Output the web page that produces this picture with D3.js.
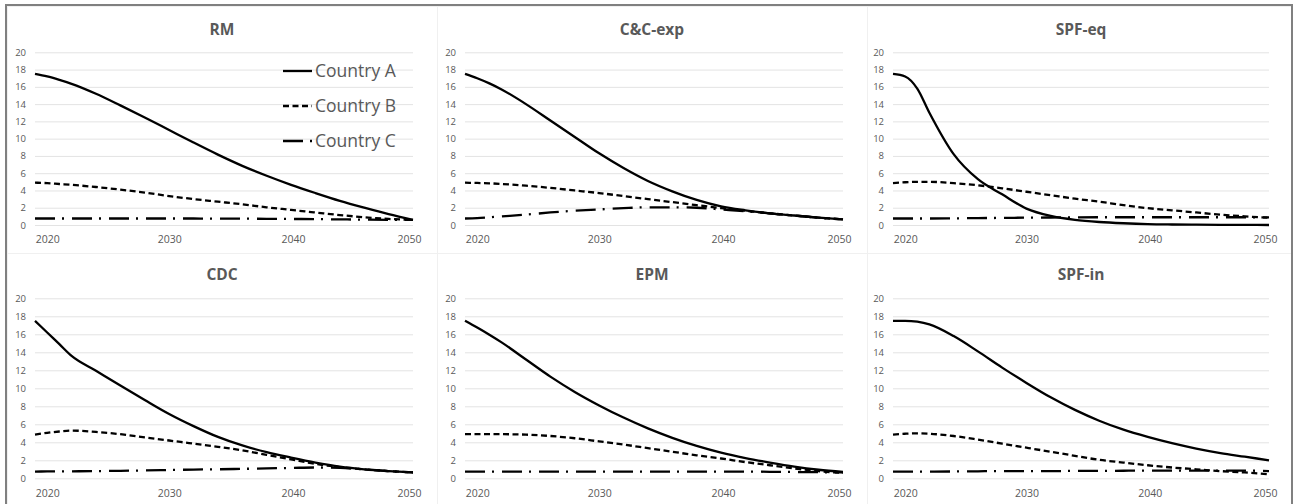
<!DOCTYPE html>
<html>
  <head>
    <title>Per-capita emissions by allocation approach</title>
    <style>
      body { margin: 0; background: #fff; }
      text { font-family: 'Open Sans', sans-serif; }
    </style>
  </head>
  <body>
    <script src="https://cdnjs.cloudflare.com/ajax/libs/d3/7.8.5/d3.min.js"></script>
    <script>
      // data
      let years = [2019, 2020, 2021, 2022, 2024, 2026, 2028, 2030, 2032, 2034, 2036, 2038, 2040, 2042, 2044, 2046, 2048, 2050];
      let xTicks = [2020, 2030, 2040, 2050];
      let yTicks = [0, 2, 4, 6, 8, 10, 12, 14, 16, 18, 20];
      let countries = ['Country A', 'Country B', 'Country C'];

      let rmA = [17.5, 17.2, 16.8, 16.35, 15.2, 13.85, 12.45, 11.0, 9.55, 8.15, 6.85, 5.7, 4.65, 3.7, 2.8, 2.0, 1.25, 0.6];
      let rmB = [4.9, 4.85, 4.75, 4.65, 4.4, 4.1, 3.75, 3.35, 3.0, 2.7, 2.4, 2.05, 1.75, 1.45, 1.15, 0.9, 0.7, 0.6];
      let rmC = [0.75, 0.75, 0.75, 0.75, 0.75, 0.75, 0.75, 0.75, 0.75, 0.74, 0.73, 0.72, 0.7, 0.68, 0.65, 0.62, 0.6, 0.6];

      let ccA = [17.5, 17.0, 16.4, 15.7, 14.0, 12.1, 10.2, 8.3, 6.6, 5.1, 3.9, 2.9, 2.15, 1.7, 1.35, 1.1, 0.85, 0.65];
      let ccB = [4.9, 4.87, 4.83, 4.75, 4.55, 4.3, 4.0, 3.7, 3.35, 3.0, 2.65, 2.3, 1.95, 1.65, 1.35, 1.1, 0.85, 0.65];
      let ccC = [0.75, 0.8, 0.9, 1.0, 1.2, 1.45, 1.65, 1.8, 1.95, 2.05, 2.05, 2.0, 1.8, 1.6, 1.35, 1.1, 0.85, 0.65];

      let eqA = [17.5, 17.2, 15.8, 13.0, 8.2, 5.3, 3.55, 1.9, 1.05, 0.6, 0.35, 0.2, 0.1, 0.06, 0.04, 0.02, 0.01, 0.0];
      let eqB = [4.85, 4.95, 5.0, 5.0, 4.85, 4.6, 4.25, 3.85, 3.45, 3.05, 2.7, 2.3, 1.95, 1.7, 1.45, 1.2, 1.0, 0.85];
      let eqC = [0.75, 0.75, 0.75, 0.75, 0.77, 0.8, 0.82, 0.85, 0.87, 0.88, 0.9, 0.9, 0.9, 0.9, 0.9, 0.9, 0.9, 0.88];

      let cdcA = [17.5, 16.2, 14.9, 13.6, 11.95, 10.3, 8.7, 7.15, 5.8, 4.6, 3.65, 2.9, 2.3, 1.75, 1.3, 1.0, 0.8, 0.65];
      let cdcB = [4.85, 5.05, 5.2, 5.3, 5.15, 4.9, 4.55, 4.2, 3.85, 3.5, 3.1, 2.6, 2.1, 1.6, 1.25, 1.0, 0.8, 0.65];
      let cdcC = [0.75, 0.76, 0.77, 0.78, 0.8, 0.83, 0.87, 0.92, 0.97, 1.0, 1.05, 1.1, 1.15, 1.2, 1.15, 1.0, 0.8, 0.65];

      let epmA = [17.5, 16.75, 15.95, 15.1, 13.2, 11.3, 9.6, 8.1, 6.75, 5.55, 4.5, 3.6, 2.85, 2.25, 1.75, 1.3, 0.95, 0.7];
      let epmB = [4.9, 4.9, 4.9, 4.9, 4.85, 4.7, 4.45, 4.1, 3.75, 3.35, 2.95, 2.55, 2.2, 1.8, 1.45, 1.1, 0.8, 0.6];
      let epmC = [0.75, 0.75, 0.75, 0.75, 0.75, 0.75, 0.75, 0.75, 0.75, 0.75, 0.75, 0.75, 0.75, 0.75, 0.72, 0.7, 0.68, 0.65];

      let inA = [17.5, 17.5, 17.4, 17.1, 15.8, 14.1, 12.3, 10.6, 9.0, 7.6, 6.4, 5.4, 4.6, 3.9, 3.3, 2.8, 2.4, 2.0];
      let inB = [4.85, 4.95, 5.0, 4.95, 4.7, 4.3, 3.85, 3.4, 2.95, 2.5, 2.05, 1.75, 1.45, 1.2, 1.0, 0.8, 0.65, 0.45];
      let inC = [0.75, 0.75, 0.75, 0.75, 0.76, 0.78, 0.8, 0.8, 0.8, 0.82, 0.82, 0.84, 0.85, 0.85, 0.85, 0.85, 0.85, 0.8];

      let panels = [
        { title: 'RM', col: 0, row: 0, series: [rmA, rmB, rmC], legend: true },
        { title: 'C&C-exp', col: 1, row: 0, series: [ccA, ccB, ccC] },
        { title: 'SPF-eq', col: 2, row: 0, series: [eqA, eqB, eqC] },
        { title: 'CDC', col: 0, row: 1, series: [cdcA, cdcB, cdcC] },
        { title: 'EPM', col: 1, row: 1, series: [epmA, epmB, epmC] },
        { title: 'SPF-in', col: 2, row: 1, series: [inA, inB, inC] }
      ];

      // layout
      let cols = [
        { x0: 35, x1: 413, tx: 222, fx: 7, fw: 430 },
        { x0: 465, x1: 843, tx: 652, fx: 437, fw: 430 },
        { x0: 893, x1: 1269, tx: 1081, fx: 867, fw: 425 }
      ];
      let rows = [
        { yTop: 52.3, yBot: 225, ty: 30, fy: 6, fh: 247 },
        { yTop: 298.3, yBot: 478.3, ty: 275, fy: 253, fh: 252 }
      ];
      let dashes = [null, '6,3.5', '20,7,2,8'];
      let grey = '#595959';

      let svg = d3.select('body')
                  .append('svg')
                  .attr('width', 1295)
                  .attr('height', 504);

      // faint chart frames
      panels.forEach((p) => {
        let c = cols[p.col], r = rows[p.row];
        svg.append('rect')
           .attr('x', c.fx + 0.5).attr('y', r.fy + 0.5)
           .attr('width', c.fw).attr('height', r.fh)
           .attr('fill', 'none').attr('stroke', '#f0f0f0');
      });

      panels.forEach((p) => {
        let c = cols[p.col], r = rows[p.row];
        let x = d3.scaleLinear().domain([2019, 2050]).range([c.x0, c.x1]);
        let y = d3.scaleLinear().domain([0, 20]).range([r.yBot, r.yTop]);
        let g = svg.append('g');

        let yAxis = g.append('g')
                     .attr('transform', 'translate(' + c.x0 + ',0)')
                     .call(d3.axisLeft(y).tickValues(yTicks).tickSize(-(c.x1 - c.x0)).tickPadding(9));
        yAxis.select('.domain').remove();
        yAxis.selectAll('line').attr('stroke', '#e3e3e3');
        yAxis.selectAll('text').attr('fill', grey).style('font-size', '9.5px');

        let xAxis = g.append('g')
                     .attr('transform', 'translate(0,' + r.yBot + ')')
                     .call(d3.axisBottom(x).tickValues(xTicks).tickFormat(d3.format('d')).tickSize(0).tickPadding(11));
        xAxis.select('.domain').remove();
        xAxis.selectAll('text')
             .attr('fill', grey)
             .style('font-size', '10.5px')
             .attr('dx', (d) => d === 2050 ? -4 : (d === 2040 ? 2 : 0));

        g.append('text')
         .attr('x', c.tx)
         .attr('y', r.ty)
         .attr('dy', '0.35em')
         .attr('text-anchor', 'middle')
         .attr('fill', grey)
         .style('font-size', '15.5px')
         .style('font-weight', 'bold')
         .text(p.title);

        let line = d3.line()
                     .x((d, i) => x(years[i]))
                     .y((d) => y(d))
                     .curve(d3.curveMonotoneX);

        // draw C first so A stays on top
        [2, 1, 0].forEach((k) => {
          g.append('path')
           .attr('d', line(p.series[k]))
           .attr('fill', 'none')
           .attr('stroke', 'black')
           .attr('stroke-width', 2.3)
           .attr('stroke-dasharray', dashes[k])
           .attr('stroke-linecap', 'butt');
        });

        if (p.legend) {
          countries.forEach((name, k) => {
            let ly = 71 + k * 35;
            g.append('line')
             .attr('x1', 283).attr('x2', 312)
             .attr('y1', ly).attr('y2', ly)
             .attr('stroke', 'black')
             .attr('stroke-width', 2.3)
             .attr('stroke-dasharray', dashes[k]);
            g.append('text')
             .attr('x', 315)
             .attr('y', ly)
             .attr('dy', '0.35em')
             .attr('fill', grey)
             .style('font-size', '17.5px')
             .text(name);
          });
        }
      });

      // outer border
      svg.append('rect')
         .attr('x', 6).attr('y', 5)
         .attr('width', 1286).attr('height', 520)
         .attr('fill', 'none')
         .attr('stroke', '#808080')
         .attr('stroke-width', 2);
    </script>
  </body>
</html>
